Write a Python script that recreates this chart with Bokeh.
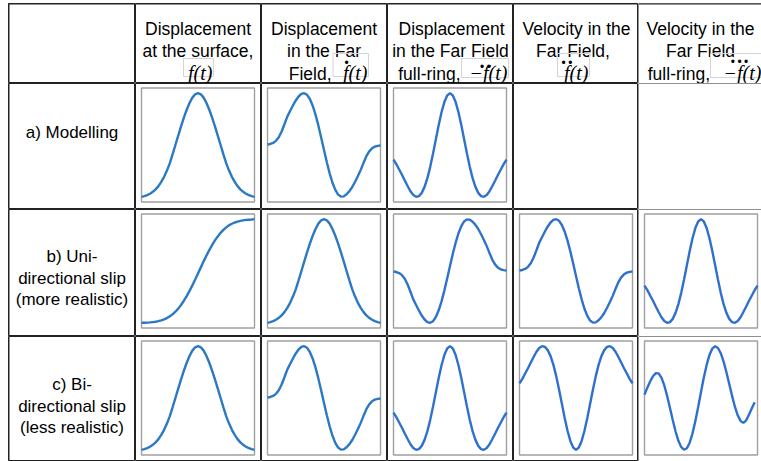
import numpy as np
from bokeh.plotting import figure
from bokeh.layouts import gridplot
from bokeh.models import Range1d, Span
from bokeh.core.properties import value
from bokeh.embed import file_html
from bokeh.resources import INLINE

# ---------------- data (normalised 0..1 within each small plot) ----------------
T = np.linspace(0.0, 1.0, 41)  # normalised time axis of every small plot

PULSE = [0, .006, .016, .030, .048, .072, .103, .144, .193, .253, .323, .41, .50, .59, .68, .765, .84, .905, .957, .989,
         1.0, .989, .957, .905, .84, .765, .68, .59, .50, .41, .323, .253, .193, .144, .103, .072, .048, .030, .016, .006, 0]

DPULSE = [.505, .51, .52, .54, .575, .63, .70, .774, .828, .881, .930, .968, .993, 1.0, .984, .944, .879, .793, .689, .572,
          .452, .334, .227, .136, .067, .022, .002, .004, .025, .055, .095, .145, .20, .26, .328, .392, .439, .468, .484, .492, .495]

NEG_DPULSE = [.495, .49, .48, .46, .425, .37, .30, .226, .172, .119, .070, .032, .007, 0, .016, .056, .121, .207, .311, .428,
              .548, .666, .773, .864, .933, .978, .998, .996, .975, .945, .905, .855, .80, .74, .672, .608, .561, .532, .516, .508, .505]

NEG_D2PULSE = [.36, .315, .264, .213, .158, .104, .054, .017, 0, .007, .038, .096, .18, .289, .417, .555, .692, .816, .914, .978,
               1.0, .978, .914, .816, .692, .555, .417, .289, .18, .096, .038, .007, 0, .017, .054, .104, .158, .213, .264, .315, .36]

D2PULSE = [.64, .685, .736, .787, .842, .896, .946, .983, 1.0, .993, .962, .904, .82, .711, .583, .445, .308, .184, .086, .022,
           0, .022, .086, .184, .308, .445, .583, .711, .82, .904, .962, .993, 1.0, .983, .946, .896, .842, .787, .736, .685, .64]

STEP = [0, .001, .002, .004, .007, .010, .016, .023, .033, .046, .062, .082, .107, .137, .172, .213, .258, .308, .361, .418,
        .476, .535, .593, .649, .702, .751, .795, .834, .868, .897, .921, .941, .956, .968, .977, .984, .989, .993, .995, .997, 1.0]

NEG_D3_BI = [.533, .60, .66, .71, .74, .738, .697, .622, .522, .406, .287, .177, .087, .026, .001, .015, .069, .159, .277, .414,
             .558, .697, .819, .916, .977, 1.0, .983, .932, .851, .749, .635, .520, .416, .333, .279, .26, .285, .34, .40, .46]

CURVES = {"PULSE": PULSE, "DPULSE": DPULSE, "NEG_DPULSE": NEG_DPULSE, "NEG_D2PULSE": NEG_D2PULSE,
          "D2PULSE": D2PULSE, "STEP": STEP, "NEG_D3_BI": NEG_D3_BI}

# which curve is drawn in which cell (rows a, b, c; five columns); None = empty cell
CELLS = [
    ["PULSE", "DPULSE", "NEG_D2PULSE", None, None],
    ["STEP", "PULSE", "NEG_DPULSE", "DPULSE", "NEG_D2PULSE"],
    ["PULSE", "DPULSE", "NEG_D2PULSE", "D2PULSE", "NEG_D3_BI"],
]

HEADER_LINES = [
    ["Displacement", "at the surface,"],
    ["Displacement", "in the Far"],
    ["Displacement", "in the Far Field"],
    ["Velocity in the", "Far Field,"],
    ["Velocity in the", "Far Field"],
]
HEADER_PREFIX = ["", "Field,", "full-ring,", "", "full-ring,"]
HEADER_MATH = ["f(t)", "f(t)", "\u2212f(t)", "f(t)", "\u2212f(t)"]
HEADER_DOTS = ["", "\u00b7", "\u00b7\u00b7", "\u00b7\u00b7", "\u00b7\u00b7\u00b7"]

ROW_LABELS = [
    ["a) Modelling"],
    ["b) Uni-", "directional slip", "(more realistic)"],
    ["c) Bi-", "directional slip", "(less realistic)"],
]

# ---------------- layout / style (page pixels) ----------------
COL_EDGES = [8, 135, 261, 387, 513, 638, 761]   # table frame edges
ROW_EDGES = [3, 83, 209, 336, 461]
LEFT_PAD, TOP_PAD = 8, 3                         # white space left of / above the table
LINE_COLOR = "#222222"
BOX_COLOR = "#a0a0a0"
CURVE_COLORS = ["#2a79c2", "#2a79c2", "#2f72cc", "#2f70cf", "#2f70cf"]
SANS = value("Liberation Sans")
SERIF = value("Liberation Serif")

HDR_CENTER_X = [[197.5, 197.5], [323.5, 323.5], [451, 450], [576, 572.5], [700, 700]]
HDR_LINE_Y = [28, 50.5]
PREFIX_RIGHT_X = [None, 331, 460, None, 709.5]
MATH_BOX = [(183, 213, 58, 76), (332.5, 368, 53, 76), (461, 508, 58, 77), (557, 589, 53, 76), (710, 768, 53, 77)]
MATH_RIGHT_X = [212, 367, 507, 588, 761]
DOTS_X = [0, 346, 485, 566.5, 739]
DOTS_Y = [0, 61.5, 65, 61.5, 60]
LABEL_Y = [[132], [256, 277.5, 299], [384, 405.5, 427]]


def edge(p, loc, dim, width=1):
    p.add_layout(Span(location=loc, dimension=dim, line_color=LINE_COLOR, line_width=width))


def base_fig(w, h, xr, yr, left=0, top=0, last_col=False):
    p = figure(width=w, height=h, x_range=xr, y_range=yr, output_backend="svg", toolbar_location=None,
               x_axis_type=None, y_axis_type=None, min_border=0, tools="")
    p.min_border_left = left
    p.min_border_top = top
    p.grid.visible = False
    p.background_fill_color = "white"
    p.border_fill_color = "white"
    if last_col:
        # the table continues past the right edge of the picture: no right border
        p.outline_line_color = None
        edge(p, xr.start, "height")
        edge(p, yr.start, "width")
        edge(p, yr.end, "width")
    else:
        p.outline_line_color = LINE_COLOR
        p.outline_line_width = 1
    if left:
        edge(p, xr.start, "height", 2)
    if top:
        edge(p, yr.end, "width", 2)
    return p


def header_cell(ci):
    x0, x1 = COL_EDGES[ci], COL_EDGES[ci + 1]
    y0, y1 = ROW_EDGES[0], ROW_EDGES[1]
    left = LEFT_PAD if ci == 0 else 0
    p = base_fig(x1 - x0 + left, y1 - y0 + TOP_PAD, Range1d(x0, x1), Range1d(y1, y0),
                 left=left, top=TOP_PAD, last_col=(ci == 5))
    if ci == 0:
        return p
    k = ci - 1
    p.text(x=HDR_CENTER_X[k], y=HDR_LINE_Y, text=HEADER_LINES[k], text_font=SANS, text_font_size="17.5px",
           text_align="center", text_baseline="alphabetic", text_color="black")
    if HEADER_PREFIX[k]:
        p.text(x=[PREFIX_RIGHT_X[k]], y=[73], text=[HEADER_PREFIX[k]], text_font=SANS, text_font_size="17.5px",
               text_align="right", text_baseline="alphabetic", text_color="black")
    bl, br, bt, bb = MATH_BOX[k]
    p.quad(left=[bl], right=[br], top=[bt], bottom=[bb], fill_color=None, line_color="#d4d4d4", line_width=1)
    p.text(x=[MATH_RIGHT_X[k]], y=[72.5], text=[HEADER_MATH[k]], text_font=SERIF, text_font_style="italic",
           text_font_size="20px", text_align="right", text_baseline="alphabetic", text_color="black")
    if HEADER_DOTS[k]:
        p.text(x=[DOTS_X[k]], y=[DOTS_Y[k]], text=[HEADER_DOTS[k]], text_font=SERIF, text_font_style="bold",
               text_font_size="20px", text_align="center", text_baseline="alphabetic", text_color="black")
    return p


def label_cell(ri):
    x0, x1 = COL_EDGES[0], COL_EDGES[1]
    y0, y1 = ROW_EDGES[ri + 1], ROW_EDGES[ri + 2]
    p = base_fig(x1 - x0 + LEFT_PAD, y1 - y0, Range1d(x0, x1), Range1d(y1, y0), left=LEFT_PAD)
    lines = ROW_LABELS[ri]
    p.text(x=[(x0 + x1) / 2] * len(lines), y=LABEL_Y[ri], text=lines, text_font=SANS, text_font_size="17px",
           text_align="center", text_baseline="alphabetic", text_color="black")
    return p


BOX_PAD_L, BOX_W, BOX_PAD_T, BOX_H = 6.0, 113.0, 4.5, 114.0


def plot_cell(ri, ci):
    w = COL_EDGES[ci + 2] - COL_EDGES[ci + 1]
    h = ROW_EDGES[ri + 2] - ROW_EDGES[ri + 1]
    sx = BOX_W
    sy = BOX_H / 1.1
    xr = Range1d(-BOX_PAD_L / sx, (w - BOX_PAD_L) / sx)
    yr = Range1d(-0.05 - (h - BOX_PAD_T - BOX_H) / sy, 1.05 + BOX_PAD_T / sy)
    p = base_fig(w, h, xr, yr, last_col=(ci == 4))
    key = CELLS[ri][ci]
    if key is not None:
        ys = CURVES[key]
        p.quad(left=[0], right=[1], bottom=[-0.05], top=[1.05], fill_color=None, line_color=BOX_COLOR, line_width=1.4)
        p.line(x=T[:len(ys)], y=ys, line_color=CURVE_COLORS[ci], line_width=2.4)
    return p


grid = [[header_cell(c) for c in range(6)]]
for r in range(3):
    grid.append([label_cell(r)] + [plot_cell(r, c) for c in range(5)])

layout = gridplot(grid, toolbar_location=None)

open("out.html", "w").write(file_html(layout, INLINE))
